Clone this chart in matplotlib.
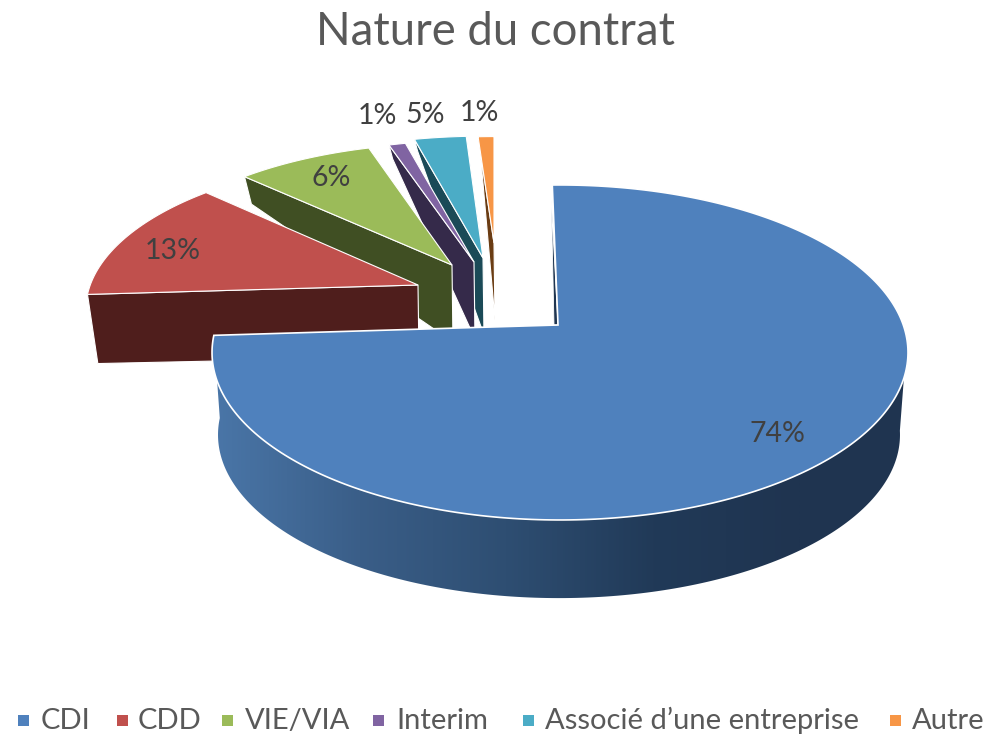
import numpy as np
import matplotlib
matplotlib.use('Agg')
import matplotlib.pyplot as plt
from matplotlib.colors import LinearSegmentedColormap
from matplotlib.patches import Polygon, Rectangle

plt.rcParams['font.family'] = ['Lato', 'DejaVu Sans']

# data
categories = ['CDI', 'CDD', 'VIE/VIA', 'Interim', 'Associé d\u2019une entreprise', 'Autre']
shares = [74, 13.2, 7.95, 0.95, 2.95, 0.95]  # slice sizes as drawn
printed = ['74%', '13%', '6%', '1%', '5%', '1%']  # labels as printed on the chart

# colours
top_colors = ['#4f81bd', '#c0504d', '#9bbb59', '#8064a2', '#4bacc6', '#f79646']
side_colors = ['#1f3550', '#4f1e1c', '#404f23', '#352a4a', '#1b4a57', '#6a3c13']

# layout (pixels), perspective pie
cx, cy = 558, 325
rx, ry = 345, 163
k = 0.164
explode_dx = [0, -140, -106, -84, -75, -64]
explode_dy = [0, -40, -60, -63, -67, -82]
scale_x = [1, 0.95, 0.93, 0.95, 0.95, 0.9]
scale_y = [1, 0.91, 0.87, 0.87, 0.87, 0.76]
label_x = [777, 173, 331, 377, 425, 479]
label_y = [434, 251, 178, 116, 115, 113]
legend_box = [18, 117, 222, 373, 523, 890]
legend_txt = [41, 138, 245, 396, 545, 912]


def rim(theta, sx=1.0, sy=1.0, ox=cx, oy=cy):
    t = np.radians(theta)
    d = 1 + k * np.cos(t)
    return ox + sx * rx * np.sin(t) / d, oy - sy * ry * np.cos(t) / d


def depth(y):
    # the extrusion gets much thinner towards the back of the picture
    return np.interp(y, [130, 145, 178, 243, 265, 295, 520], [8, 14, 28, 77, 77, 69, 78])


fig = plt.figure(figsize=(10.03, 7.36), dpi=100)
ax = fig.add_axes([0, 0, 1, 1])

edges = np.cumsum([0] + shares) / sum(shares) * 360

# back slices first, the big one goes on top
for i in range(len(shares) - 1, 0, -1):
    tx = cx + explode_dx[i]
    ty = cy + explode_dy[i]
    a = np.linspace(edges[i], edges[i + 1], 40)
    xs, ys = rim(a, scale_x[i], scale_y[i], tx, ty)
    x0, y0 = xs[0], ys[0]
    face = [(x0, y0), (tx, ty), (tx + 1, ty + depth(ty)), (x0 + (cx - x0) * 0.022, y0 + depth(y0))]
    ax.add_patch(Polygon(face, closed=True, fc=side_colors[i], ec='white', lw=0.8, zorder=i * -2))
    ax.add_patch(Polygon([(tx, ty)] + list(zip(xs, ys)), closed=True, fc=top_colors[i],
                         ec='white', lw=0.8, zorder=i * -2 + 1))

# CDI: thin cut face, shaded side, top (a touch off centre and rotated, like the original)
a = np.linspace(-1.5, edges[1], 300)
xs, ys = rim(a, 0.995, 1.0, cx + 2, cy)
ax.add_patch(Polygon([(xs[0] - 1, ys[0] + 15), (cx - 4, cy), (cx, cy)], closed=True,
                     fc=side_colors[0], ec='white', lw=0.6, zorder=1))

top_x, top_y = rim(np.linspace(108, edges[1], 200), 0.995, 1.0, cx + 2, cy)
bot_x, bot_y = rim(np.linspace(98, edges[1], 200), 0.975, 0.975, cx + 1, cy + 83)
side = Polygon(np.r_[np.c_[top_x, top_y], np.c_[bot_x, bot_y][::-1]], closed=True, fc='none', ec='none')
ax.add_patch(side)
shade = LinearSegmentedColormap.from_list('shade', ['#4a76a8', '#3a5e88', '#2e4e72', '#213a58', '#1f3450'])
im = ax.imshow(np.linspace(0, 1, 256).reshape(1, -1), cmap=shade, extent=(213, 800, 600, 330),
               aspect='auto', zorder=2)
im2 = ax.imshow([[1]], cmap=shade, vmin=0, vmax=1, extent=(800, 910, 600, 330), aspect='auto', zorder=2)
im.set_clip_path(side)
im2.set_clip_path(side)

ax.add_patch(Polygon([(cx, cy)] + list(zip(xs, ys)), closed=True, fc=top_colors[0],
                     ec='white', lw=1.2, zorder=3))

# labels
for x, y, txt in zip(label_x, label_y, printed):
    ax.text(x, y, txt, ha='center', va='center', fontsize=20.5, color='#404040', zorder=5)

ax.text(496, 32, 'Nature du contrat', ha='center', va='center', fontsize=32.8, color='#595959')

# legend
for bx, lx, c, name in zip(legend_box, legend_txt, top_colors, categories):
    ax.add_patch(Rectangle((bx, 715), 11, 11, fc=c, ec='none'))
    ax.text(lx, 729, name, ha='left', va='baseline', fontsize=21, color='#595959')

ax.set_xlim(0, 1003)
ax.set_ylim(736, 0)
ax.axis('off')

plt.savefig('out.png', dpi=100)
